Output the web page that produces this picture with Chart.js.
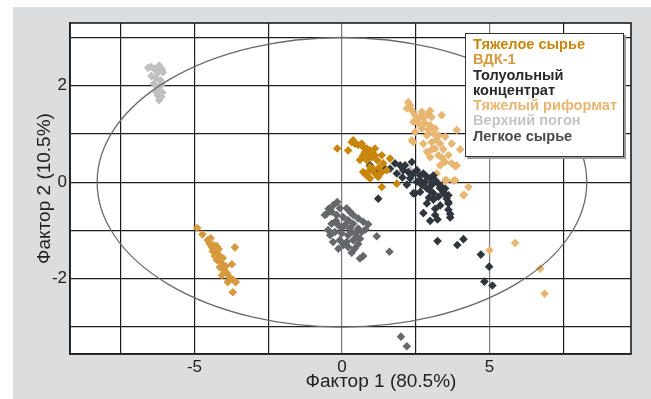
<!DOCTYPE html>
<html>
<head>
<meta charset="utf-8">
<script src="https://cdn.jsdelivr.net/npm/chart.js@4.4.1/dist/chart.umd.min.js"></script>
<style>
body { margin: 0; background: #fff; font-family: "Liberation Sans", Arial, sans-serif; }
#wrap { position: relative; width: 651px; height: 399px; }
#panel { position: absolute; left: 13px; top: 7px; right: 0; bottom: 0; background: #dcdddf; }
#c { position: absolute; left: 0; top: 0; }
#legend { position: absolute; left: 465px; top: 33px; width: 159px; height: 124px; background: #fff;
  border: 1px solid #333; box-shadow: 2px 2px 0 #9a9a9a; box-sizing: border-box;
  padding: 3px 0 0 7px; font-weight: bold; font-size: 14.6px; line-height: 15.3px; white-space: nowrap; }
</style>
</head>
<body>
<div id="wrap">
  <div id="panel"></div>
  <canvas id="c" width="651" height="399"></canvas>
  <div id="legend"></div>
</div>
<script>
// series names (legend order)
var seriesNames = ['Тяжелое сырье', 'ВДК-1', 'Толуольный концентрат', 'Тяжелый риформат', 'Верхний погон', 'Легкое сырье'];

// points [factor1, factor2]
var heavyFeed = [
  [-0.16,0.70],[0.21,0.66],[0.33,0.83],[0.44,0.80],[0.55,0.77],[0.67,0.80],[0.72,0.73],[0.84,0.70],
  [0.95,0.66],[1.01,0.63],[0.89,0.59],[0.72,0.56],[0.61,0.46],[0.84,0.46],[1.01,0.52],[1.12,0.56],
  [1.35,0.56],[1.40,0.39],[1.63,0.49],[0.95,0.32],[1.06,0.28],[0.72,0.21],[0.84,0.14],[1.12,0.18],
  [1.23,0.11],[1.35,0.21],[1.52,0.25],[1.86,-0.03],[1.35,-0.10],[0.95,0.08],[0.38,0.87],[1.12,0.70],
  [0.78,0.62],[1.20,0.45],[0.90,0.22],[1.25,0.30]
];
var vdk1 = [
  [-4.91,-0.95],[-4.73,-1.08],[-4.55,-1.20],[-4.48,-1.28],[-4.41,-1.35],[-4.35,-1.30],[-4.38,-1.43],
  [-4.28,-1.41],[-4.21,-1.49],[-4.31,-1.53],[-4.14,-1.55],[-4.24,-1.61],[-4.11,-1.66],[-4.04,-1.72],
  [-4.14,-1.76],[-3.94,-1.74],[-3.73,-1.70],[-4.01,-1.82],[-3.90,-1.88],[-4.07,-1.93],[-3.80,-1.97],
  [-3.67,-2.03],[-3.87,-2.07],[-3.60,-2.07],[-3.70,-2.28],[-3.63,-1.35],[-4.45,-1.16],[-4.24,-1.33],
  [-4.18,-1.39],[-4.04,-1.57]
];
var toluene = [
  [0.95,0.35],[1.23,0.25],[1.46,0.28],[1.63,0.28],[1.80,0.39],[1.97,0.35],[2.14,0.35],[2.37,0.42],
  [2.08,0.25],[2.25,0.21],[2.42,0.18],[2.54,0.25],[2.65,0.14],[2.76,0.18],[2.88,0.11],[2.99,0.08],
  [3.10,0.14],[3.16,0.04],[3.27,-0.03],[3.38,-0.10],[3.50,-0.13],[2.54,0.01],[2.71,-0.06],[2.88,-0.13],
  [2.48,-0.23],[3.10,-0.23],[3.27,-0.30],[3.44,-0.23],[3.55,-0.34],[3.61,-0.44],[1.23,-0.34],[1.86,0.18],
  [2.31,0.08],[2.65,0.04],[3.04,-0.06],[2.42,-0.23],[2.65,-0.20],[2.88,-0.44],[3.10,-0.36],[3.33,-0.48],
  [3.61,-0.41],[2.76,-0.64],[3.16,-0.55],[3.16,-0.68],[2.99,-0.80],[3.24,-0.77],[3.61,-0.57],[3.67,-0.66],
  [3.67,-0.73],[3.61,-0.27],[3.44,-0.20],[3.24,-1.22],[3.91,-1.30],[4.12,-1.18],[4.71,-1.50],[4.99,-1.75],
  [4.83,-2.06],[5.10,-2.14],[2.05,0.10],[2.20,-0.05],[2.82,0.00],[3.00,-0.18],[3.32,-0.12],[2.95,-0.32]
];
var heavyReformate = [
  [2.25,1.66],[2.31,1.59],[2.20,1.53],[2.37,1.49],[2.71,1.46],[2.99,1.48],[3.38,1.39],[2.48,1.39],
  [2.65,1.35],[2.76,1.32],[3.04,1.35],[2.42,1.25],[2.59,1.22],[2.82,1.22],[2.99,1.18],[2.71,1.11],
  [2.93,1.09],[3.16,1.11],[2.48,1.04],[3.10,1.01],[3.89,1.08],[2.88,0.97],[3.27,0.97],[3.50,0.94],
  [2.42,0.83],[2.76,0.80],[3.04,0.83],[3.33,0.80],[3.72,0.80],[2.88,0.63],[3.16,0.70],[3.44,0.68],
  [2.99,0.52],[3.27,0.56],[3.61,0.56],[4.01,0.68],[3.50,0.42],[3.72,0.39],[3.33,0.35],[3.89,0.35],
  [3.84,0.04],[4.29,-0.10],[4.12,-0.27],[3.50,0.04],[2.37,0.87],[3.84,0.33],[4.14,-0.26],[3.21,0.18],
  [3.55,0.04],[3.78,0.03],[5.00,-1.41],[5.87,-1.26],[6.72,-1.79],[6.87,-2.31],[2.55,1.30],[2.90,1.40],
  [3.20,0.88],[3.05,0.68],[3.40,0.50]
];
var overhead = [
  [-6.57,2.37],[-6.46,2.39],[-6.35,2.34],[-6.20,2.42],[-6.10,2.34],[-6.07,2.28],[-6.24,2.27],[-6.46,2.20],
  [-6.31,2.16],[-6.15,2.11],[-6.38,2.04],[-6.12,2.02],[-6.27,1.98],[-6.18,1.90],[-6.29,1.87],[-6.09,1.86],
  [-6.24,1.80],[-6.12,1.77],[-6.20,1.70],[2.31,0.25]
];
var lightFeed = [
  [-0.16,-0.41],[-0.30,-0.48],[-0.52,-0.66],[-0.35,-0.61],[-0.07,-0.54],[0.16,-0.54],[0.27,-0.61],
  [0.38,-0.68],[0.55,-0.75],[0.72,-0.82],[0.89,-0.87],[-0.18,-0.68],[0.04,-0.72],[0.21,-0.79],[0.38,-0.86],
  [-0.35,-0.86],[-0.12,-0.89],[0.10,-0.89],[0.27,-0.96],[0.55,-0.96],[-0.47,-0.99],[-0.24,-1.03],
  [-0.01,-1.06],[0.21,-1.10],[0.44,-1.06],[0.67,-1.03],[-0.30,-1.24],[-0.07,-1.20],[0.16,-1.24],
  [0.38,-1.20],[0.61,-1.17],[0.21,-1.34],[0.44,-1.37],[0.61,-1.58],[0.72,-1.53],[1.18,-1.12],
  [1.61,-1.44],[-0.58,-0.68],[2.00,-3.20],[2.20,-3.40],[-0.45,-0.55],[-0.20,-0.80],[0.00,-0.95],
  [0.30,-1.02],[0.50,-1.12],[0.05,-1.30],[-0.12,-1.38],[0.33,-1.46],[0.55,-1.28],[0.80,-0.98],[-0.40,-1.10]
];
var seriesData = [heavyFeed, vdk1, toluene, heavyReformate, overhead, lightFeed];

// axes
var xMin = -9.22, xMax = 9.8, xStep = 2.5;
var yMin = -3.56, yMax = 3.3, yStep = 1;
var xTickLabels = [-5, 0, 5];
var yTickLabels = [-2, 0, 2];
var xTitle = 'Фактор 1 (80.5%)';
var yTitle = 'Фактор 2 (10.5%)';
// confidence ellipse (semi-axes, data units)
var ellipseRx = 8.3, ellipseRy = 3.0;

var pointColors = ['#c8860b', '#d6993d', '#2e353c', '#e8b670', '#c0c0c0', '#66676a'];
var textColors  = ['#c8860b', '#d6993d', '#2a2a2a', '#e8b670', '#c4c4c4', '#4a4a4a'];

// legend
var leg = document.getElementById('legend');
seriesNames.forEach(function(name, i) {
    var d = document.createElement('div');
    d.style.color = textColors[i];
    d.innerHTML = name === 'Толуольный концентрат' ? 'Толуольный<br>концентрат' : name;
    leg.appendChild(d);
});

var framePlugin = {
    id: 'frame',
    beforeDraw: function(chart) {
        var a = chart.chartArea, ctx = chart.ctx;
        ctx.save();
        ctx.fillStyle = '#fff';
        ctx.fillRect(a.left, a.top, a.right - a.left, a.bottom - a.top);
        ctx.restore();
    },
    afterDatasetsDraw: function(chart) {
        var ctx = chart.ctx, a = chart.chartArea;
        var xs = chart.scales.x, ys = chart.scales.y;
        var cx = xs.getPixelForValue(0), cy = ys.getPixelForValue(0);
        ctx.save();
        ctx.beginPath();
        ctx.ellipse(cx, cy, xs.getPixelForValue(ellipseRx) - cx, cy - ys.getPixelForValue(ellipseRy), 0, 0, Math.PI * 2);
        ctx.strokeStyle = '#6a6a6a';
        ctx.lineWidth = 1.3;
        ctx.stroke();
        ctx.strokeStyle = '#1e1e1e';
        ctx.lineWidth = 1.6;
        ctx.strokeRect(a.left, a.top, a.right - a.left, a.bottom - a.top);
        // x axis title sits right of centre in the original
        ctx.fillStyle = '#222';
        ctx.font = '19px "Liberation Sans"';
        ctx.textAlign = 'center';
        ctx.textBaseline = 'middle';
        ctx.fillText(xTitle, 381, 382);
        ctx.restore();
    }
};

var ctx = document.getElementById('c').getContext('2d');
var chart = new Chart(ctx, {
    type: 'scatter',
    data: {
        datasets: seriesData.map(function(pts, i) {
            return {
                label: seriesNames[i],
                data: pts.map(function(p) { return {x: p[0], y: p[1]}; }),
                pointStyle: 'rectRot',
                pointRadius: 4.3,
                borderWidth: 0,
                backgroundColor: pointColors[i],
                borderColor: pointColors[i]
            };
        })
    },
    options: {
        responsive: false,
        animation: false,
        layout: { padding: { left: 13, top: 23, right: 20, bottom: 0 } },
        plugins: { legend: { display: false }, tooltip: { enabled: false } },
        scales: {
            x: {
                type: 'linear', min: xMin, max: xMax,
                afterFit: function(s) { s.height = 45; },
                ticks: {
                    stepSize: xStep, includeBounds: false, padding: 3, maxRotation: 0,
                    color: '#222', font: { family: 'Liberation Sans', size: 17 },
                    callback: function(v) { return xTickLabels.indexOf(v) >= 0 ? String(v) : ''; }
                },
                grid: {
                    drawTicks: false, lineWidth: 1.2,
                    color: function(c) { return (c.tick && (c.tick.value === 0 || c.tick.value === 5)) ? '#7a7a7a' : '#1e1e1e'; }
                },
                border: { color: '#1e1e1e', width: 1.6 },
                title: { display: false }
            },
            y: {
                type: 'linear', min: yMin, max: yMax,
                afterFit: function(s) { s.width = 57; },
                ticks: {
                    stepSize: yStep, includeBounds: false, padding: 3,
                    color: '#222', font: { family: 'Liberation Sans', size: 17 },
                    callback: function(v) { return yTickLabels.indexOf(v) >= 0 ? String(v) : ''; }
                },
                grid: { drawTicks: false, lineWidth: 1.2, color: '#1e1e1e' },
                border: { color: '#1e1e1e', width: 1.6 },
                title: { display: true, text: yTitle, color: '#222', font: { family: 'Liberation Sans', size: 19 }, padding: { top: 20, bottom: 0 } }
            }
        }
    },
    plugins: [framePlugin]
});
</script>
</body>
</html>
